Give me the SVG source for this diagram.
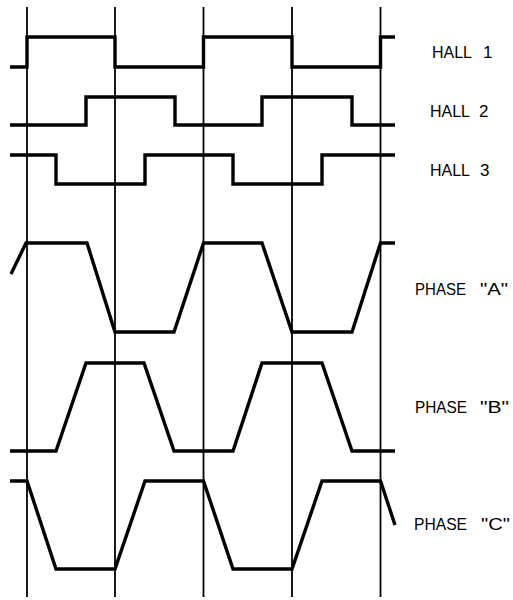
<svg xmlns="http://www.w3.org/2000/svg" width="513" height="600" viewBox="0 0 513 600">
<style>
.grid{stroke:#000;stroke-width:1.8;fill:none}
.wave{stroke:#000;stroke-width:3.4;fill:none;stroke-linejoin:miter;stroke-linecap:butt}
.lbl{font-family:"Liberation Sans",Arial,sans-serif;font-size:17px;fill:#000}
</style>
<rect width="513" height="600" fill="#fff"/>
<g id="grid-lines">
<line class="grid" x1="27" y1="7" x2="27" y2="597"/>
<line class="grid" x1="115" y1="7" x2="115" y2="597"/>
<line class="grid" x1="203.5" y1="7" x2="203.5" y2="597"/>
<line class="grid" x1="292" y1="7" x2="292" y2="597"/>
<line class="grid" x1="380.5" y1="7" x2="380.5" y2="597"/>
</g>
<g id="hall1">
<polyline class="wave" points="10,67 27,67 27,37 115,37 115,67 203.5,67 203.5,37 292,37 292,67 380.5,67 380.5,37 395,37"/>
<text class="lbl" y="58"><tspan x="432" textLength="40" lengthAdjust="spacingAndGlyphs">HALL</tspan><tspan x="483">1</tspan></text>
</g>
<g id="hall2">
<polyline class="wave" points="10,125 86,125 86,97 175,97 175,125 262,125 262,97 352,97 352,125 395,125"/>
<text class="lbl" y="117"><tspan x="430" textLength="40" lengthAdjust="spacingAndGlyphs">HALL</tspan><tspan x="479">2</tspan></text>
</g>
<g id="hall3">
<polyline class="wave" points="10,155 56,155 56,184 145,184 145,155 233,155 233,184 322,184 322,155 395,155"/>
<text class="lbl" y="176"><tspan x="430" textLength="40" lengthAdjust="spacingAndGlyphs">HALL</tspan><tspan x="480">3</tspan></text>
</g>
<g id="phaseA">
<polyline class="wave" points="11,274 26,243 87,243 115,332 174,332 203.5,243 262,243 292,332 352,332 380.5,243 395,243"/>
<text class="lbl" y="295"><tspan x="415" textLength="51" lengthAdjust="spacingAndGlyphs">PHASE</tspan><tspan x="480" textLength="28" lengthAdjust="spacingAndGlyphs">"A"</tspan></text>
</g>
<g id="phaseB">
<polyline class="wave" points="10,451 56,451 86,363 144,363 174,451 233,451 262,363 322,363 352,451 395,451"/>
<text class="lbl" y="413"><tspan x="415" textLength="52" lengthAdjust="spacingAndGlyphs">PHASE</tspan><tspan x="480" textLength="29" lengthAdjust="spacingAndGlyphs">"B"</tspan></text>
</g>
<g id="phaseC">
<polyline class="wave" points="10,481 27,481 56,569 115,569 145,481 203.5,481 233,569 292,569 322,481 380.5,481 395,525"/>
<text class="lbl" y="530"><tspan x="414" textLength="53" lengthAdjust="spacingAndGlyphs">PHASE</tspan><tspan x="481" textLength="29" lengthAdjust="spacingAndGlyphs">"C"</tspan></text>
</g>
</svg>
